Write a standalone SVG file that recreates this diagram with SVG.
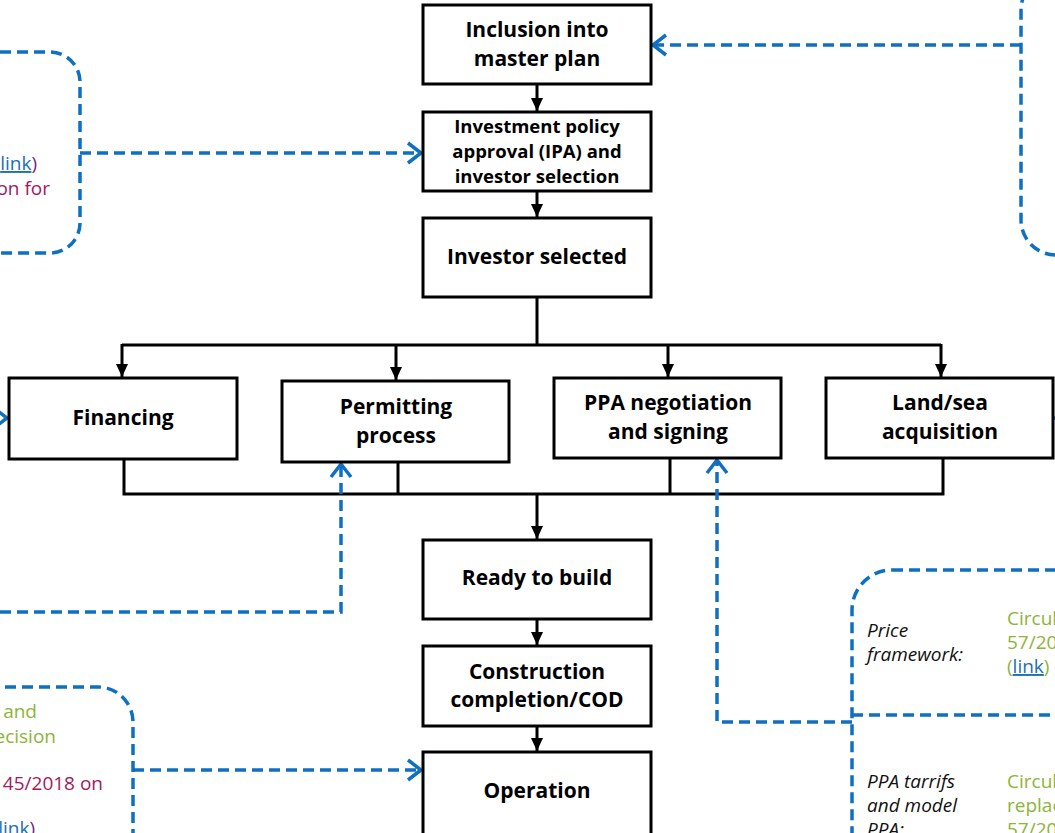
<svg xmlns="http://www.w3.org/2000/svg" width="1055" height="833" viewBox="0 0 1055 833">
<style>
.box{fill:#fff;stroke:#000;stroke-width:3}
.t{font-family:"Open Sans","Liberation Sans",sans-serif;font-weight:bold;font-size:21px;fill:#000;text-anchor:middle}
.ts{font-size:18.5px}
.blk{fill:none;stroke:#000;stroke-width:3}
.blu{fill:none;stroke:#0f6fc0;stroke-width:3.5;stroke-dasharray:11 6}
.s{font-family:"Open Sans","Liberation Sans",sans-serif;font-size:19px}
.it{font-style:italic;fill:#111}
.g{fill:#8db43a}
.m{fill:#a3195b}
.lk{fill:#1a6fb5;text-decoration:underline}
.pu{fill:#6a2b8a}
</style>
<defs>
<marker id="ab" markerUnits="userSpaceOnUse" markerWidth="16" markerHeight="14" refX="13" refY="7" orient="auto">
<path d="M0,1 L13,7 L0,13 Z" fill="#000"/>
</marker>
<marker id="ob" markerUnits="userSpaceOnUse" markerWidth="20" markerHeight="24" refX="17" refY="12" orient="auto">
<path d="M4,2 L17,12 L4,22" fill="none" stroke="#0f6fc0" stroke-width="3.5"/>
</marker>
</defs>

<g id="side-boxes">
<rect id="box-top-left" class="blu" x="-200" y="52" width="280" height="201" rx="30"/>
<rect id="box-top-right" class="blu" x="1021" y="-25" width="250" height="280" rx="35"/>
<rect id="box-bottom-left" class="blu" x="-200" y="687" width="333" height="300" rx="35"/>
<g id="box-bottom-right">
<rect class="blu" x="852" y="570" width="400" height="400" rx="40"/>
<line class="blu" x1="852" y1="715" x2="1060" y2="715"/>
</g>
</g>

<g id="side-texts">
<text class="s" x="37" y="170" text-anchor="end"><tspan class="lk">link</tspan><tspan class="pu">)</tspan></text>
<text class="s m" x="50" y="195" text-anchor="end">on for</text>
<text class="s g" x="37" y="718" text-anchor="end">and</text>
<text class="s g" x="56" y="743" text-anchor="end">ecision</text>
<text class="s m" x="103" y="790" text-anchor="end">45/2018 on</text>
<text class="s" x="35" y="835" text-anchor="end"><tspan class="lk">link</tspan><tspan class="pu">)</tspan></text>
<text class="s it" x="867" y="637">Price</text>
<text class="s it" x="867" y="661">framework:</text>
<text class="s g" x="1007" y="625">Circul</text>
<text class="s g" x="1007" y="649">57/20</text>
<text class="s g" x="1007" y="673">(<tspan class="lk">link</tspan>)</text>
<text class="s it" x="867" y="788">PPA tarrifs</text>
<text class="s it" x="867" y="812">and model</text>
<text class="s it" x="867" y="836">PPA:</text>
<text class="s g" x="1007" y="788">Circul</text>
<text class="s g" x="1007" y="812">replac</text>
<text class="s g" x="1007" y="836">57/20</text>
</g>

<g id="connectors">
<line class="blk" x1="537" y1="84" x2="537" y2="111" marker-end="url(#ab)"/>
<line class="blk" x1="537" y1="191" x2="537" y2="217" marker-end="url(#ab)"/>
<path class="blk" d="M537,297 V345 M122,345 H941"/>
<line class="blk" x1="122" y1="344" x2="122" y2="377" marker-end="url(#ab)"/>
<line class="blk" x1="396" y1="344" x2="396" y2="380" marker-end="url(#ab)"/>
<line class="blk" x1="668" y1="344" x2="668" y2="377" marker-end="url(#ab)"/>
<line class="blk" x1="941" y1="344" x2="941" y2="377" marker-end="url(#ab)"/>
<path class="blk" d="M124,459 V494 M398,462 V494 M670,458 V494 M943,458 V494 M122.5,494 H944.5"/>
<line class="blk" x1="537" y1="494" x2="537" y2="539" marker-end="url(#ab)"/>
<line class="blk" x1="537" y1="619" x2="537" y2="645" marker-end="url(#ab)"/>
<line class="blk" x1="537" y1="726" x2="537" y2="751" marker-end="url(#ab)"/>
<line class="blu" x1="1021" y1="45" x2="653" y2="45" marker-end="url(#ob)"/>
<line class="blu" x1="80" y1="153" x2="421" y2="153" marker-end="url(#ob)"/>
<line class="blu" x1="133" y1="770" x2="421" y2="770" marker-end="url(#ob)"/>
<path class="blu" d="M0,612 H341 V464" marker-end="url(#ob)"/>
<path class="blu" d="M852,722 H717 V460" marker-end="url(#ob)"/>
<line class="blu" x1="-30" y1="418" x2="7" y2="418" marker-end="url(#ob)"/>
<line class="blu" x1="1053" y1="418" x2="1060" y2="418"/>
</g>

<g id="n-inclusion"><rect class="box" x="423" y="5" width="228" height="79"/>
<text class="t" x="537" y="37">Inclusion into</text><text class="t" x="537" y="66">master plan</text></g>
<g id="n-ipa"><rect class="box" x="423" y="112" width="228" height="79"/>
<text class="t ts" x="537" y="133">Investment policy</text><text class="t ts" x="537" y="158">approval (IPA) and</text><text class="t ts" x="537" y="183">investor selection</text></g>
<g id="n-investor"><rect class="box" x="423" y="218" width="228" height="79"/>
<text class="t" x="537" y="264">Investor selected</text></g>
<g id="n-financing"><rect class="box" x="9" y="378" width="228" height="81"/>
<text class="t" x="123" y="425">Financing</text></g>
<g id="n-permitting"><rect class="box" x="282" y="381" width="227" height="81"/>
<text class="t" x="396" y="414">Permitting</text><text class="t" x="396" y="443">process</text></g>
<g id="n-ppa"><rect class="box" x="554" y="378" width="227" height="80"/>
<text class="t" x="668" y="410">PPA negotiation</text><text class="t" x="668" y="439">and signing</text></g>
<g id="n-land"><rect class="box" x="826" y="378" width="227" height="80"/>
<text class="t" x="940" y="410">Land/sea</text><text class="t" x="940" y="439">acquisition</text></g>
<g id="n-ready"><rect class="box" x="423" y="540" width="228" height="79"/>
<text class="t" x="537" y="585">Ready to build</text></g>
<g id="n-construction"><rect class="box" x="423" y="646" width="228" height="80"/>
<text class="t" x="537" y="679">Construction</text><text class="t" x="537" y="707">completion/COD</text></g>
<g id="n-operation"><rect class="box" x="423" y="752" width="228" height="90"/>
<text class="t" x="537" y="798">Operation</text></g>
</svg>
